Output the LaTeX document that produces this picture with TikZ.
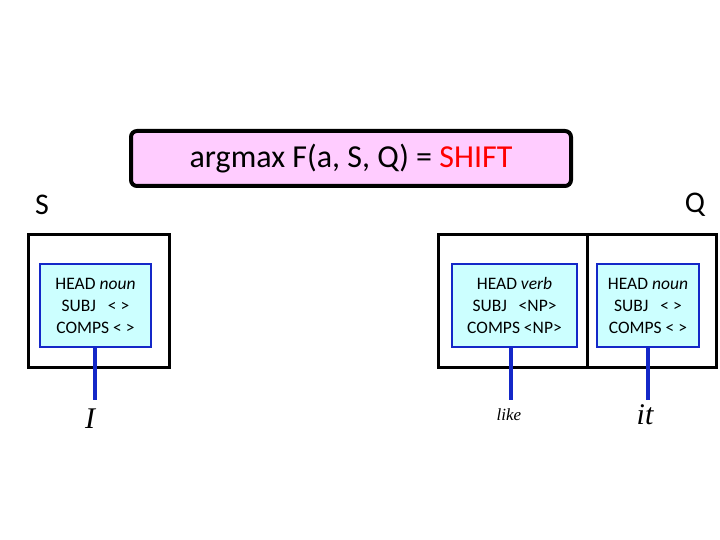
\documentclass[tikz,border=0pt]{standalone}
\usepackage{fontspec}
\setmainfont{Carlito}
\newfontfamily\serifw{Liberation Serif}
\definecolor{pinkf}{RGB}{255,204,255}
\definecolor{cyanf}{RGB}{204,255,255}
\definecolor{blueb}{RGB}{20,40,200}
\begin{document}
\begin{tikzpicture}[x=1pt,y=-1pt,
  outer/.style={draw=black,line width=3pt},
  inner/.style={draw=blueb,line width=2pt,fill=cyanf},
  stem/.style={draw=blueb,line width=4pt},
  fs/.style={font=\fontsize{17.5}{22}\selectfont,align=center}]
\useasboundingbox (0,0) rectangle (720,540);
\node[draw=black,line width=4pt,rounded corners=6pt,fill=pinkf,minimum width=440pt,minimum height=55pt,
  font=\fontsize{32}{36}\selectfont] (title) at (351,158.5) {argmax F(a, S, Q) = \textcolor{red}{SHIFT}};
\node[font=\fontsize{30}{30}\selectfont] (S) at (42,205) {S};
\node[font=\fontsize{30}{30}\selectfont] (Q) at (695,205) {Q};
\draw[outer] (28,234) rectangle (169,367);
\draw[outer] (438,234) rectangle (587,367);
\draw[outer] (587,234) rectangle (716,367);
\node[inner,minimum width=111pt,minimum height=83pt,fs] (n1) at (95.5,305.5) {HEAD \textit{noun}\\SUBJ \ \ < >\\COMPS < >};
\node[inner,minimum width=125pt,minimum height=83pt,fs] (n2) at (514.5,305.5) {HEAD \textit{verb}\\SUBJ \ \ <NP>\\COMPS <NP>};
\node[inner,minimum width=102pt,minimum height=83pt,fs] (n3) at (648,305.5) {HEAD \textit{noun}\\SUBJ \ \ < >\\COMPS < >};
\coordinate (e1) at (95,400);
\coordinate (e2) at (511,400);
\coordinate (e3) at (648,400);
\draw[stem] (n1.south -| e1) -- (e1);
\draw[stem] (n2.south -| e2) -- (e2);
\draw[stem] (n3.south -| e3) -- (e3);
\node[font=\serifw\itshape\fontsize{30}{30}\selectfont] (w1) at (90,419) {I};
\node[font=\serifw\itshape\fontsize{17}{20}\selectfont] (w2) at (509,415) {like};
\node[font=\serifw\itshape\fontsize{30}{30}\selectfont] (w3) at (645,415) {it};
\end{tikzpicture}
\end{document}
